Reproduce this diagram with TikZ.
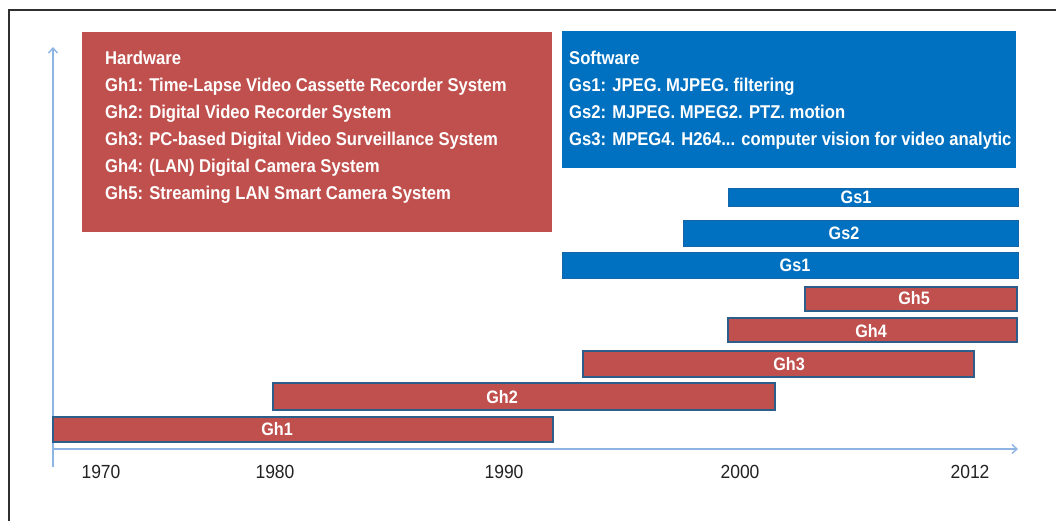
\documentclass[tikz,border=0pt]{standalone}
\usepackage{fontspec}
\setmainfont{Liberation Sans}[FakeStretch=0.96]
\newfontfamily\labelfont{Liberation Sans}[FakeStretch=0.90,UprightFont=* Bold]
\newfontfamily\yearfont{Liberation Sans}[FakeStretch=0.92]
\usetikzlibrary{arrows.meta,fit}

\definecolor{hwred}{HTML}{C0504D}
\definecolor{swblue}{HTML}{0070C0}
\definecolor{barline}{HTML}{2C5E8C}
\definecolor{swline}{HTML}{1565A8}
\definecolor{axisblue}{HTML}{8DB4E2}
\definecolor{framegray}{HTML}{303030}
\definecolor{yeargray}{HTML}{222222}

\tikzset{
  legendbox/.style={inner sep=0pt, outer sep=0pt, draw=none},
  legendline/.style={text=white, inner sep=0pt, anchor=base west,
    font=\labelfont\fontsize{18.5}{27}\selectfont},
  hwbar/.style={fill=hwred, draw=barline, line width=2.4pt, inner sep=0pt, outer sep=0pt},
  swbar/.style={fill=swblue, draw=swline, line width=0.8pt, inner sep=0pt, outer sep=0pt},
  barlabel/.style={text=white, inner sep=0pt, font=\labelfont\fontsize{18}{20}\selectfont},
  yearlabel/.style={text=yeargray, inner sep=0pt, font=\yearfont\fontsize{19}{22}\selectfont},
  axis/.style={draw=axisblue, line width=1.4pt, -{Straight Barb[length=5pt,width=9pt]}},
}

\begin{document}
\begin{tikzpicture}[x=1pt, y=-1pt]
\useasboundingbox (0,0) rectangle (1056,521);

% outer frame (top and left edges)
\coordinate (ftr) at (1056,10);
\coordinate (ftl) at (9,10);
\coordinate (fbl) at (9,521);
\draw[framegray, line width=1.3pt] (ftr) -- (ftl) -- (fbl);

% legend boxes
\node[legendbox, fill=hwred, fit={(82,32)(552,232)}] (hwbox) {};
\node[legendbox, fill=swblue, fit={(562,31)(1016,168)}] (swbox) {};

\node[legendline] (hwt) at (105,65)  {Hardware};
\node[legendline] (hw1) at (105,92)  {Gh1: Time-Lapse Video Cassette Recorder System};
\node[legendline] (hw2) at (105,119) {Gh2: Digital Video Recorder System};
\node[legendline] (hw3) at (105,146) {Gh3: PC-based Digital Video Surveillance System};
\node[legendline] (hw4) at (105,173) {Gh4: (LAN) Digital Camera System};
\node[legendline] (hw5) at (105,200) {Gh5: Streaming LAN Smart Camera System};

\node[legendline] (swt) at (569,65)  {Software};
\node[legendline] (sw1) at (569,92)  {Gs1: JPEG. MJPEG. filtering};
\node[legendline] (sw2) at (569,119) {Gs2: MJPEG. MPEG2. PTZ. motion};
\node[legendline] (sw3) at (569,146) {Gs3: MPEG4. H264... computer vision for video analytic};

% axes
\coordinate (ybot) at (53,467);
\coordinate (ytop) at (53,47);
\coordinate (xleft) at (53,449);
\coordinate (xright) at (1018,449);
\draw[axis] (ybot) -- (ytop);
\draw[axis] (xleft) -- (xright);

% software bars
\node[swbar, fit={(728,188)(1018,206)}] (gs1a) {};
\node[swbar, fit={(683,220)(1018,246)}] (gs2) {};
\node[swbar, fit={(562,252)(1018,278)}] (gs1b) {};
\node[barlabel] (gs1al) at (856,197) {Gs1};
\node[barlabel] (gs2l) at (844,233) {Gs2};
\node[barlabel] (gs1bl) at (795,265) {Gs1};

% hardware bars
\node[hwbar, fit={(805,287)(1017,311)}] (gh5) {};
\node[hwbar, fit={(728,318)(1017,342)}] (gh4) {};
\node[hwbar, fit={(583,351)(974,377)}] (gh3) {};
\node[hwbar, fit={(273,383)(775,410)}] (gh2) {};
\node[hwbar, fit={(53,417)(553,442)}] (gh1) {};
\node[barlabel] (gh5l) at (914,298) {Gh5};
\node[barlabel] (gh4l) at (871,331) {Gh4};
\node[barlabel] (gh3l) at (789,364) {Gh3};
\node[barlabel] (gh2l) at (502,397) {Gh2};
\node[barlabel] (gh1l) at (277,429) {Gh1};

% year labels
\node[yearlabel] (y1970) at (101,472) {1970};
\node[yearlabel] (y1980) at (275,472) {1980};
\node[yearlabel] (y1990) at (504,472) {1990};
\node[yearlabel] (y2000) at (740,472) {2000};
\node[yearlabel] (y2012) at (970,472) {2012};
\end{tikzpicture}
\end{document}
